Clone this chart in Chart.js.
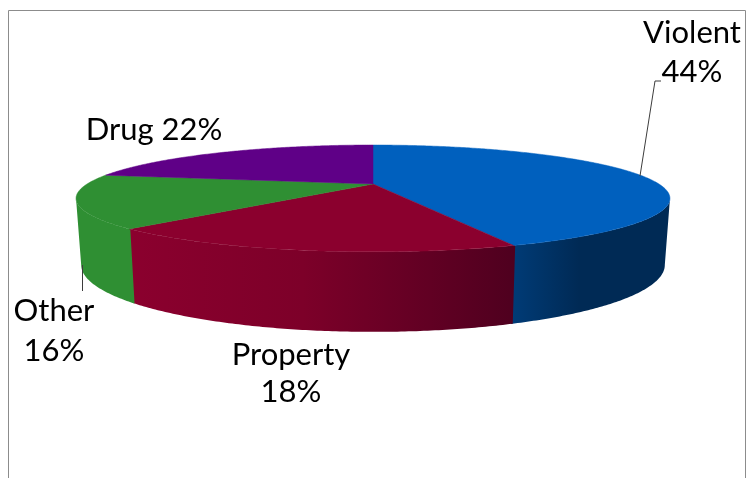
<!DOCTYPE html>
<html>
<head>
<meta charset="utf-8">
<title>Offense types</title>
<script src="https://cdn.jsdelivr.net/npm/chart.js@4/dist/chart.umd.min.js"></script>
<style>
  html, body { margin: 0; padding: 0; background: #fff; }
  canvas { display: block; }
</style>
</head>
<body>
<canvas id="pie3d" width="748" height="478"></canvas>
<script>
// ============================================================
// DATA
// ============================================================
var categories = ['Violent', 'Property', 'Other', 'Drug'];
var shares = [44, 18, 16, 22];

// ============================================================
// LOOK
// ============================================================
var topColors = ['#0060be', '#8b002e', '#2f8f33', '#5f0087'];
var sideStops = [
  [[0, '#003b76'], [0.42, '#002a55'], [1, '#002a55']],
  [[0, '#8b002e'], [0.45, '#7d0029'], [1, '#4f001f']],
  [[0, '#2f8f33'], [1, '#2f8f33']],
  [[0, '#5f0087'], [1, '#5f0087']]
];
var labelFont = '31px Lato, "Open Sans", sans-serif';
// one entry per line of each label, in category order
var labelSpots = [
  [[692, 33], [692, 72]],
  [[291, 355], [291, 392]],
  [[54, 311], [54, 351]],
  [[154, 130]]
];
var leaders = [
  [[640, 176], [655, 81], [661, 81]],
  [[82.5, 265], [82.5, 291]]
];

// flat disc tilted in perspective, sizes are relative to the arc radius
var tilt = { k: 0.27, topW: 1.554, topH: 0.269, botW: 1.527, botH: 0.337, botDrop: 0.342 };
var wallFrom = Math.asin(tilt.k);
var wallTo = Math.PI - wallFrom;

function project(arc, angle, bottom) {
  var u = Math.cos(angle), v = Math.sin(angle);
  var w = 1 - tilt.k * v;
  var r = arc.outerRadius;
  if (bottom) {
    return [arc.x + r * tilt.botW * u / w, arc.y + r * tilt.botDrop + r * tilt.botH * v / w];
  }
  return [arc.x + r * tilt.topW * u / w, arc.y + r * tilt.topH * v / w];
}

function traceEdge(ctx, arc, from, to, bottom) {
  var steps = Math.max(2, Math.ceil(Math.abs(to - from) / 0.01));
  for (var i = 0; i <= steps; i++) {
    var p = project(arc, from + (to - from) * i / steps, bottom);
    ctx.lineTo(p[0], p[1]);
  }
}

function drawSide(ctx, arc, idx) {
  // only the part of the wall facing the viewer
  var from = Math.max(arc.startAngle, wallFrom);
  var to = Math.min(arc.endAngle, wallTo);
  if (to <= from) return;
  var a = project(arc, to, false);
  var b = project(arc, from, false);
  var g = ctx.createLinearGradient(Math.min(a[0], b[0]), 0, Math.max(a[0], b[0]), 0);
  sideStops[idx].forEach(function(s) { g.addColorStop(s[0], s[1]); });
  // small overlap on the seam with the previous wall
  if (from > wallFrom) from -= 0.005;
  ctx.beginPath();
  traceEdge(ctx, arc, from, to, false);
  traceEdge(ctx, arc, to, from, true);
  ctx.closePath();
  ctx.fillStyle = g;
  ctx.fill();
}

function drawTop(ctx, arc, idx) {
  ctx.beginPath();
  ctx.moveTo(arc.x, arc.y);
  traceEdge(ctx, arc, arc.startAngle, arc.endAngle, false);
  ctx.closePath();
  ctx.fillStyle = topColors[idx];
  ctx.fill();
  ctx.strokeStyle = topColors[idx];
  ctx.lineWidth = 0.5;
  ctx.stroke();
}

var pie3dPlugin = {
  id: 'pie3d',
  beforeDraw: function(chart) {
    // frame, open at the bottom edge of the picture
    var ctx = chart.ctx;
    ctx.save();
    ctx.strokeStyle = '#8c8c8c';
    ctx.lineWidth = 1;
    ctx.beginPath();
    ctx.moveTo(8.5, 478);
    ctx.lineTo(8.5, 10.5);
    ctx.lineTo(745.5, 10.5);
    ctx.lineTo(745.5, 478);
    ctx.stroke();
    ctx.restore();
  },
  beforeDatasetsDraw: function(chart) {
    var ctx = chart.ctx;
    var arcs = chart.getDatasetMeta(0).data;
    ctx.save();
    arcs.forEach(function(a, i) { drawSide(ctx, a, i); });
    arcs.forEach(function(a, i) { drawTop(ctx, a, i); });

    ctx.strokeStyle = '#3c3c3c';
    ctx.lineWidth = 1;
    leaders.forEach(function(line) {
      ctx.beginPath();
      line.forEach(function(p, i) {
        if (i === 0) ctx.moveTo(p[0], p[1]); else ctx.lineTo(p[0], p[1]);
      });
      ctx.stroke();
    });
    ctx.fillStyle = '#000';
    ctx.font = labelFont;
    ctx.textAlign = 'center';
    ctx.textBaseline = 'middle';
    categories.forEach(function(name, i) {
      var pct = shares[i] + '%';
      var spots = labelSpots[i];
      if (spots.length === 2) {
        ctx.fillText(name, spots[0][0], spots[0][1]);
        ctx.fillText(pct, spots[1][0], spots[1][1]);
      } else {
        ctx.fillText(name + ' ' + pct, spots[0][0], spots[0][1]);
      }
    });
    ctx.restore();
    return false; // the flat arcs are replaced by the tilted ones
  }
};

new Chart(document.getElementById('pie3d'), {
  type: 'pie',
  data: {
    labels: categories,
    datasets: [{ data: shares, backgroundColor: topColors, borderWidth: 0 }]
  },
  options: {
    responsive: false,
    animation: false,
    layout: { padding: { left: 0, right: 2, top: 0, bottom: 110 } },
    plugins: { legend: { display: false }, tooltip: { enabled: false } }
  },
  plugins: [pie3dPlugin]
});
</script>
</body>
</html>
